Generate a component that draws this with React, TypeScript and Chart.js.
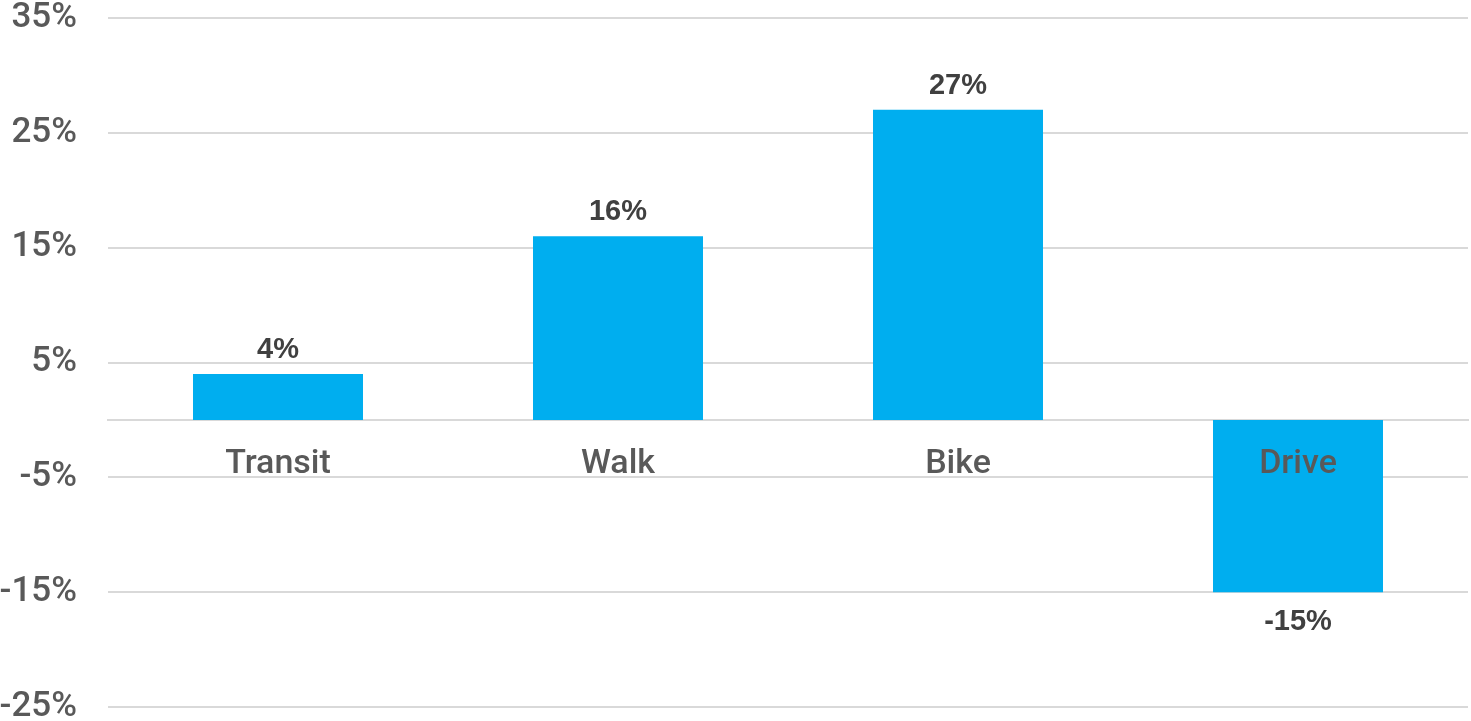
import React, { useEffect, useRef } from 'react';
import { Chart, registerables } from 'chart.js';
Chart.register(...registerables);

const categories = ['Transit', 'Walk', 'Bike', 'Drive'];
const changeValues = [4, 16, 27, -15];
const yTickValues = [-25, -15, -5, 5, 15, 25, 35];

const FONT = "'Liberation Sans', Arial, sans-serif";
const AXIS_FONT = "Roboto, 'Liberation Sans', Arial, sans-serif";

const valueLabelPlugin = {
  id: 'valueLabels',
  afterDatasetsDraw(chart: any) {
    const { ctx } = chart;
    const meta = chart.getDatasetMeta(0);
    ctx.save();
    ctx.font = `bold 29px ${FONT}`;
    ctx.fillStyle = '#404040';
    ctx.textAlign = 'center';
    ctx.textBaseline = 'alphabetic';
    meta.data.forEach((bar: any, i: number) => {
      const v = changeValues[i];
      const y = v >= 0 ? bar.y - 16 : bar.y + 38;
      ctx.fillText(`${v}%`, bar.x, y);
    });
    ctx.restore();
  },
};

export default function App() {
  const canvasRef = useRef<HTMLCanvasElement | null>(null);

  useEffect(() => {
    if (!canvasRef.current) return;
    const chart = new Chart(canvasRef.current, {
      type: 'bar',
      data: {
        labels: categories,
        datasets: [
          {
            data: changeValues,
            backgroundColor: '#00AEEF',
            borderWidth: 0,
            categoryPercentage: 1,
            barPercentage: 0.5,
          },
        ],
      },
      options: {
        animation: false,
        responsive: true,
        maintainAspectRatio: false,
        layout: { padding: { left: 0, right: 3, top: 18, bottom: 14 } },
        plugins: {
          legend: { display: false },
          tooltip: { enabled: false },
        },
        scales: {
          x: {
            position: { y: 0 } as any,
            offset: true,
            grid: { display: false, drawTicks: false },
            border: { display: true, color: '#d9d9d9', width: 2 },
            ticks: {
              z: 1,
              font: { size: 34, family: AXIS_FONT, weight: '500' },
              color: '#595959',
              padding: 24,
              maxRotation: 0,
              autoSkip: false,
            },
          },
          y: {
            min: -25,
            max: 35,
            ticks: {
              stepSize: 10,
              callback: (v: any) => `${v}%`,
              font: { size: 35, family: AXIS_FONT, weight: '500' },
              color: '#595959',
              padding: 31,
            },
            grid: { color: '#d9d9d9', lineWidth: 2, drawTicks: false },
            border: { display: false },
            afterBuildTicks: (scale: any) => {
              scale.ticks = yTickValues.map((v) => ({ value: v }));
            },
            afterFit: (scale: any) => {
              scale.width = 108;
              scale.paddingTop = 0;
              scale.paddingBottom = 0;
            },
          },
        },
      },
      plugins: [valueLabelPlugin],
    });
    return () => chart.destroy();
  }, []);

  return (
    <div style={{ position: 'fixed', left: 0, top: 0, width: 1471, height: 721, background: '#fff' }}>
      <canvas ref={canvasRef} />
    </div>
  );
}
